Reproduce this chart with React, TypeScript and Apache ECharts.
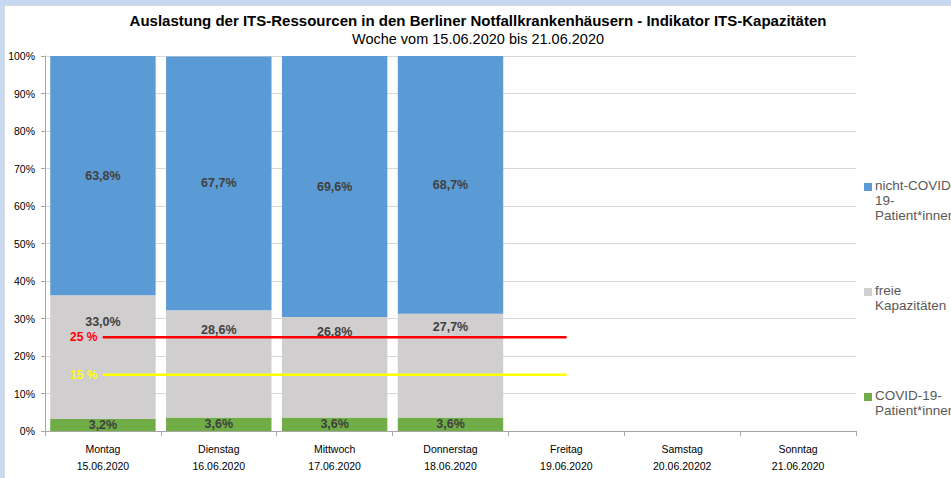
import React, { useEffect, useRef } from "react";
import * as echarts from "echarts";

const days = ["Montag", "Dienstag", "Mittwoch", "Donnerstag", "Freitag", "Samstag", "Sonntag"];
const dates = ["15.06.2020", "16.06.2020", "17.06.2020", "18.06.2020", "19.06.2020", "20.06.20202", "21.06.2020"];
const covid = [3.2, 3.6, 3.6, 3.6];
const freie = [33.0, 28.6, 26.8, 27.7];
const nichtCovid = [63.8, 67.7, 69.6, 68.7];
const line25 = [25, 25, 25, 25, 25];
const line15 = [15, 15, 15, 15, 15];
const yTicks = [0, 10, 20, 30, 40, 50, 60, 70, 80, 90, 100];

const legendItems = [
  { name: "nicht-COVID-\n19-\nPatient*innen", color: "#5b9bd5" },
  { name: "freie\nKapazitäten", color: "#d0cece" },
  { name: "COVID-19-\nPatient*innen", color: "#70ad47" },
];

// label placement tweaks for the grey segment (styling only)
const freieLabelDistance = [20, 13, 8, 7];

const FONT = "'Liberation Sans', Arial, sans-serif";
const fmt = (v: number) => v.toFixed(1).replace(".", ",") + "%";

export default function App() {
  const ref = useRef<HTMLDivElement>(null);
  useEffect(() => {
    if (!ref.current) return;
    const chart = echarts.init(ref.current, null, { renderer: "svg" });
    const labelBase = {
      show: true,
      fontFamily: FONT,
      fontSize: 12.5,
      fontWeight: "bold" as const,
      color: "#404040",
      formatter: (p: any) => fmt(p.value),
    };
    const legendTop = [172, 277, 382];
    const graphics: any[] = [];
    legendItems.forEach((it, i) => {
      graphics.push({
        type: "rect",
        shape: { x: 859, y: legendTop[i] + 5, width: 8, height: 8 },
        style: { fill: it.color },
      });
      graphics.push({
        type: "text",
        x: 870,
        y: legendTop[i],
        style: {
          text: it.name,
          fill: "#595959",
          fontFamily: FONT,
          fontSize: 13.5,
          lineHeight: 15,
          verticalAlign: "top",
          align: "left",
        },
      });
    });
    const lineLabel = (txt: string, color: string) => ({
      show: true,
      position: "left",
      distance: 5,
      formatter: txt,
      fontFamily: FONT,
      fontSize: 12,
      fontWeight: "bold",
      color,
    });
    chart.setOption({
      animation: false,
      title: {
        text: "Auslastung der ITS-Ressourcen in den Berliner Notfallkrankenhäusern - Indikator ITS-Kapazitäten",
        subtext: "Woche vom 15.06.2020 bis 21.06.2020",
        left: "center",
        top: 5,
        padding: 0,
        itemGap: 1,
        textStyle: { fontFamily: FONT, fontSize: 15, fontWeight: "bold", color: "#000", lineHeight: 18 },
        subtextStyle: { fontFamily: FONT, fontSize: 14.5, color: "#000", lineHeight: 17 },
      },
      grid: { left: 40, right: 95, top: 50, bottom: 47 },
      xAxis: {
        type: "category",
        data: days.map((d, i) => d + "\n" + dates[i]),
        axisLine: { lineStyle: { color: "#a6a6a6", width: 1 } },
        axisTick: { show: true, length: 5, lineStyle: { color: "#a6a6a6" } },
        axisLabel: { fontFamily: FONT, fontSize: 10.5, color: "#000", lineHeight: 17, margin: 9 },
      },
      yAxis: {
        type: "value",
        min: yTicks[0],
        max: yTicks[yTicks.length - 1],
        interval: 10,
        axisLine: { show: true, lineStyle: { color: "#a6a6a6" } },
        axisTick: { show: true, length: 4, lineStyle: { color: "#a6a6a6" } },
        axisLabel: { formatter: "{value}%", fontFamily: FONT, fontSize: 10.5, color: "#000", margin: 10 },
        splitLine: { lineStyle: { color: "#d9d9d9" } },
      },
      series: [
        {
          name: "COVID-19-Patient*innen",
          type: "bar",
          stack: "a",
          barCategoryGap: "9%",
          data: covid,
          itemStyle: { color: "#70ad47" },
          label: { ...labelBase, position: "inside" },
        },
        {
          name: "freie Kapazitäten",
          type: "bar",
          stack: "a",
          data: freie.map((v, i) => ({
            value: v,
            label: { position: "insideTop", distance: freieLabelDistance[i] },
          })),
          itemStyle: { color: "#d0cece" },
          label: { ...labelBase, position: "insideTop" },
        },
        {
          name: "nicht-COVID-19-Patient*innen",
          type: "bar",
          stack: "a",
          data: nichtCovid,
          itemStyle: { color: "#5b9bd5" },
          label: { ...labelBase, position: "inside" },
        },
        {
          name: "25 %",
          type: "line",
          data: line25.map((v, i) => (i === 0 ? { value: v, label: lineLabel("25 %", "#ff0000") } : v)),
          symbol: "circle",
          symbolSize: 1,
          itemStyle: { color: "#ff0000" },
          lineStyle: { color: "#ff0000", width: 2.5 },
          z: 5,
        },
        {
          name: "15 %",
          type: "line",
          data: line15.map((v, i) => (i === 0 ? { value: v, label: lineLabel("15 %", "#ffff00") } : v)),
          symbol: "circle",
          symbolSize: 1,
          itemStyle: { color: "#ffff00" },
          lineStyle: { color: "#ffff00", width: 2.5 },
          z: 5,
        },
      ],
      graphic: graphics,
    });
    return () => chart.dispose();
  }, []);
  return (
    <div style={{ position: "fixed", left: 0, top: 0, width: 951, height: 478, background: "#c6d9f1", overflow: "hidden" }}>
      <div
        style={{
          position: "absolute",
          left: 4,
          top: 5,
          width: 947,
          height: 473,
          background: "#fff",
          borderLeft: "1px solid #d9d9d9",
          borderTop: "1px solid #d9d9d9",
          boxSizing: "border-box",
        }}
      />
      <div ref={ref} style={{ position: "absolute", left: 5, top: 6, width: 946, height: 472 }} />
    </div>
  );
}
